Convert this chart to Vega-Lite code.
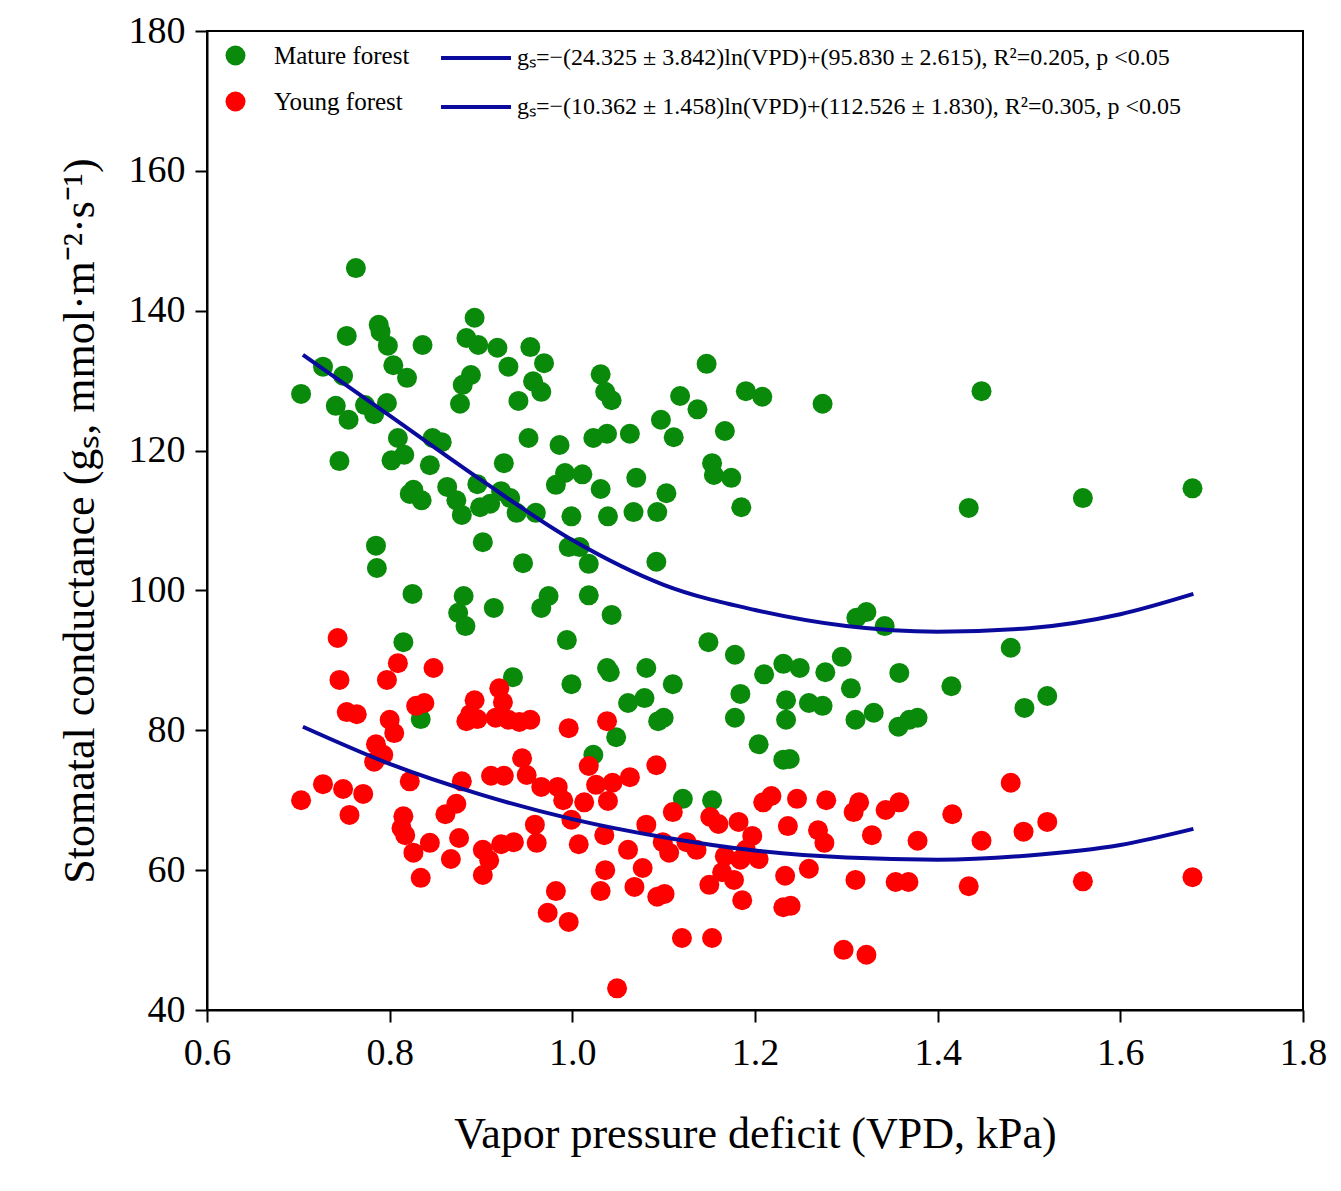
{
  "$schema": "https://vega.github.io/schema/vega-lite/v6.json",
  "width": 1096,
  "height": 979,
  "autosize": {"type": "none"},
  "padding": {"left": 207, "top": 31, "right": 38, "bottom": 181},
  "background": "white",
  "config": {
    "font": "Liberation Serif",
    "view": {"stroke": "black", "strokeWidth": 2},
    "axis": {
      "grid": false, "domainColor": "black", "domainWidth": 2, "tickColor": "black", "tickWidth": 2, "tickSize": 12, "labelFlush": false,
      "labelFont": "Liberation Serif", "labelFontSize": 38, "labelColor": "black",
      "titleFont": "Liberation Serif", "titleFontSize": 44, "titleFontWeight": "normal", "titleColor": "black"
    },
    "legend": {"labelFont": "Liberation Serif", "labelFontSize": 25, "labelColor": "black"}
  },
  "datasets": {
    "pts": [
      {"vpd":0.703,"gs":128.1,"site":"Mature forest"},{"vpd":0.727,"gs":132,"site":"Mature forest"},{"vpd":0.749,"gs":130.7,"site":"Mature forest"},{"vpd":0.741,"gs":126.4,"site":"Mature forest"},{"vpd":0.753,"gs":136.4,"site":"Mature forest"},{"vpd":0.763,"gs":146.1,"site":"Mature forest"},{"vpd":0.755,"gs":124.4,"site":"Mature forest"},{"vpd":0.745,"gs":118.5,"site":"Mature forest"},{"vpd":0.773,"gs":126.5,"site":"Mature forest"},{"vpd":0.788,"gs":138,"site":"Mature forest"},{"vpd":0.79,"gs":137,"site":"Mature forest"},{"vpd":0.798,"gs":135,"site":"Mature forest"},{"vpd":0.797,"gs":126.8,"site":"Mature forest"},{"vpd":0.804,"gs":132.2,"site":"Mature forest"},{"vpd":0.819,"gs":130.4,"site":"Mature forest"},{"vpd":0.836,"gs":135.1,"site":"Mature forest"},{"vpd":0.783,"gs":125.2,"site":"Mature forest"},{"vpd":0.809,"gs":121.8,"site":"Mature forest"},{"vpd":0.802,"gs":118.6,"site":"Mature forest"},{"vpd":0.816,"gs":119.4,"site":"Mature forest"},{"vpd":0.822,"gs":113.8,"site":"Mature forest"},{"vpd":0.835,"gs":112.9,"site":"Mature forest"},{"vpd":0.826,"gs":114.4,"site":"Mature forest"},{"vpd":0.785,"gs":106.4,"site":"Mature forest"},{"vpd":0.786,"gs":103.2,"site":"Mature forest"},{"vpd":0.825,"gs":99.5,"site":"Mature forest"},{"vpd":0.815,"gs":92.6,"site":"Mature forest"},{"vpd":0.834,"gs":81.6,"site":"Mature forest"},{"vpd":0.847,"gs":121.8,"site":"Mature forest"},{"vpd":0.857,"gs":121.2,"site":"Mature forest"},{"vpd":0.844,"gs":117.9,"site":"Mature forest"},{"vpd":0.863,"gs":114.8,"site":"Mature forest"},{"vpd":0.873,"gs":112.9,"site":"Mature forest"},{"vpd":0.877,"gs":126.7,"site":"Mature forest"},{"vpd":0.88,"gs":129.4,"site":"Mature forest"},{"vpd":0.889,"gs":130.8,"site":"Mature forest"},{"vpd":0.884,"gs":136.1,"site":"Mature forest"},{"vpd":0.893,"gs":139,"site":"Mature forest"},{"vpd":0.897,"gs":135.1,"site":"Mature forest"},{"vpd":0.881,"gs":99.2,"site":"Mature forest"},{"vpd":0.875,"gs":96.8,"site":"Mature forest"},{"vpd":0.883,"gs":94.9,"site":"Mature forest"},{"vpd":0.879,"gs":110.8,"site":"Mature forest"},{"vpd":0.896,"gs":115.2,"site":"Mature forest"},{"vpd":0.899,"gs":111.9,"site":"Mature forest"},{"vpd":0.91,"gs":112.4,"site":"Mature forest"},{"vpd":0.902,"gs":106.9,"site":"Mature forest"},{"vpd":0.918,"gs":134.7,"site":"Mature forest"},{"vpd":0.93,"gs":132,"site":"Mature forest"},{"vpd":0.925,"gs":118.2,"site":"Mature forest"},{"vpd":0.922,"gs":114.2,"site":"Mature forest"},{"vpd":0.932,"gs":113.2,"site":"Mature forest"},{"vpd":0.939,"gs":111.1,"site":"Mature forest"},{"vpd":0.914,"gs":97.5,"site":"Mature forest"},{"vpd":0.935,"gs":87.6,"site":"Mature forest"},{"vpd":0.941,"gs":127.1,"site":"Mature forest"},{"vpd":0.952,"gs":121.8,"site":"Mature forest"},{"vpd":0.946,"gs":103.9,"site":"Mature forest"},{"vpd":0.954,"gs":134.8,"site":"Mature forest"},{"vpd":0.957,"gs":129.9,"site":"Mature forest"},{"vpd":0.96,"gs":111.1,"site":"Mature forest"},{"vpd":0.966,"gs":128.4,"site":"Mature forest"},{"vpd":0.969,"gs":132.5,"site":"Mature forest"},{"vpd":0.966,"gs":97.5,"site":"Mature forest"},{"vpd":0.974,"gs":99.2,"site":"Mature forest"},{"vpd":0.982,"gs":115.1,"site":"Mature forest"},{"vpd":0.986,"gs":120.8,"site":"Mature forest"},{"vpd":0.992,"gs":116.8,"site":"Mature forest"},{"vpd":0.999,"gs":110.6,"site":"Mature forest"},{"vpd":0.996,"gs":106.2,"site":"Mature forest"},{"vpd":1.011,"gs":116.6,"site":"Mature forest"},{"vpd":1.008,"gs":106.2,"site":"Mature forest"},{"vpd":0.994,"gs":92.9,"site":"Mature forest"},{"vpd":0.999,"gs":86.6,"site":"Mature forest"},{"vpd":1.018,"gs":103.8,"site":"Mature forest"},{"vpd":1.018,"gs":99.3,"site":"Mature forest"},{"vpd":1.023,"gs":121.8,"site":"Mature forest"},{"vpd":1.031,"gs":130.9,"site":"Mature forest"},{"vpd":1.036,"gs":128.4,"site":"Mature forest"},{"vpd":1.043,"gs":127.2,"site":"Mature forest"},{"vpd":1.031,"gs":114.5,"site":"Mature forest"},{"vpd":1.038,"gs":122.4,"site":"Mature forest"},{"vpd":1.039,"gs":110.6,"site":"Mature forest"},{"vpd":1.043,"gs":96.5,"site":"Mature forest"},{"vpd":1.038,"gs":88.9,"site":"Mature forest"},{"vpd":1.041,"gs":88.3,"site":"Mature forest"},{"vpd":1.023,"gs":76.5,"site":"Mature forest"},{"vpd":1.048,"gs":79,"site":"Mature forest"},{"vpd":1.061,"gs":83.9,"site":"Mature forest"},{"vpd":1.063,"gs":122.4,"site":"Mature forest"},{"vpd":1.067,"gs":111.2,"site":"Mature forest"},{"vpd":1.07,"gs":116.1,"site":"Mature forest"},{"vpd":1.079,"gs":84.6,"site":"Mature forest"},{"vpd":1.081,"gs":88.9,"site":"Mature forest"},{"vpd":1.093,"gs":111.2,"site":"Mature forest"},{"vpd":1.097,"gs":124.4,"site":"Mature forest"},{"vpd":1.103,"gs":113.9,"site":"Mature forest"},{"vpd":1.111,"gs":121.9,"site":"Mature forest"},{"vpd":1.118,"gs":127.8,"site":"Mature forest"},{"vpd":1.137,"gs":125.9,"site":"Mature forest"},{"vpd":1.092,"gs":104.1,"site":"Mature forest"},{"vpd":1.094,"gs":81.3,"site":"Mature forest"},{"vpd":1.1,"gs":81.8,"site":"Mature forest"},{"vpd":1.11,"gs":86.6,"site":"Mature forest"},{"vpd":1.121,"gs":70.2,"site":"Mature forest"},{"vpd":1.147,"gs":132.4,"site":"Mature forest"},{"vpd":1.153,"gs":118.2,"site":"Mature forest"},{"vpd":1.155,"gs":116.5,"site":"Mature forest"},{"vpd":1.149,"gs":92.6,"site":"Mature forest"},{"vpd":1.153,"gs":70,"site":"Mature forest"},{"vpd":1.167,"gs":122.8,"site":"Mature forest"},{"vpd":1.174,"gs":116.1,"site":"Mature forest"},{"vpd":1.185,"gs":111.9,"site":"Mature forest"},{"vpd":1.19,"gs":128.5,"site":"Mature forest"},{"vpd":1.208,"gs":127.7,"site":"Mature forest"},{"vpd":1.178,"gs":90.8,"site":"Mature forest"},{"vpd":1.184,"gs":85.2,"site":"Mature forest"},{"vpd":1.178,"gs":81.8,"site":"Mature forest"},{"vpd":1.21,"gs":88,"site":"Mature forest"},{"vpd":1.204,"gs":78,"site":"Mature forest"},{"vpd":1.231,"gs":89.5,"site":"Mature forest"},{"vpd":1.234,"gs":84.3,"site":"Mature forest"},{"vpd":1.249,"gs":88.9,"site":"Mature forest"},{"vpd":1.234,"gs":81.5,"site":"Mature forest"},{"vpd":1.231,"gs":75.8,"site":"Mature forest"},{"vpd":1.238,"gs":75.9,"site":"Mature forest"},{"vpd":1.259,"gs":83.9,"site":"Mature forest"},{"vpd":1.274,"gs":83.5,"site":"Mature forest"},{"vpd":1.277,"gs":88.3,"site":"Mature forest"},{"vpd":1.274,"gs":126.7,"site":"Mature forest"},{"vpd":1.295,"gs":90.5,"site":"Mature forest"},{"vpd":1.305,"gs":86,"site":"Mature forest"},{"vpd":1.31,"gs":81.5,"site":"Mature forest"},{"vpd":1.311,"gs":96.1,"site":"Mature forest"},{"vpd":1.322,"gs":96.9,"site":"Mature forest"},{"vpd":1.33,"gs":82.5,"site":"Mature forest"},{"vpd":1.342,"gs":94.9,"site":"Mature forest"},{"vpd":1.357,"gs":80.5,"site":"Mature forest"},{"vpd":1.358,"gs":88.2,"site":"Mature forest"},{"vpd":1.369,"gs":81.5,"site":"Mature forest"},{"vpd":1.378,"gs":81.8,"site":"Mature forest"},{"vpd":1.415,"gs":86.3,"site":"Mature forest"},{"vpd":1.434,"gs":111.8,"site":"Mature forest"},{"vpd":1.448,"gs":128.5,"site":"Mature forest"},{"vpd":1.48,"gs":91.8,"site":"Mature forest"},{"vpd":1.495,"gs":83.2,"site":"Mature forest"},{"vpd":1.52,"gs":84.9,"site":"Mature forest"},{"vpd":1.559,"gs":113.2,"site":"Mature forest"},{"vpd":1.679,"gs":114.6,"site":"Mature forest"},
      {"vpd":0.703,"gs":70,"site":"Young forest"},{"vpd":0.727,"gs":72.3,"site":"Young forest"},{"vpd":0.743,"gs":93.2,"site":"Young forest"},{"vpd":0.745,"gs":87.2,"site":"Young forest"},{"vpd":0.749,"gs":71.6,"site":"Young forest"},{"vpd":0.753,"gs":82.6,"site":"Young forest"},{"vpd":0.756,"gs":67.9,"site":"Young forest"},{"vpd":0.764,"gs":82.3,"site":"Young forest"},{"vpd":0.771,"gs":70.9,"site":"Young forest"},{"vpd":0.785,"gs":78,"site":"Young forest"},{"vpd":0.783,"gs":75.5,"site":"Young forest"},{"vpd":0.793,"gs":76.5,"site":"Young forest"},{"vpd":0.797,"gs":87.2,"site":"Young forest"},{"vpd":0.8,"gs":81.5,"site":"Young forest"},{"vpd":0.805,"gs":79.6,"site":"Young forest"},{"vpd":0.809,"gs":89.6,"site":"Young forest"},{"vpd":0.813,"gs":66,"site":"Young forest"},{"vpd":0.815,"gs":67.7,"site":"Young forest"},{"vpd":0.817,"gs":65,"site":"Young forest"},{"vpd":0.822,"gs":72.7,"site":"Young forest"},{"vpd":0.829,"gs":83.5,"site":"Young forest"},{"vpd":0.826,"gs":62.5,"site":"Young forest"},{"vpd":0.838,"gs":83.9,"site":"Young forest"},{"vpd":0.834,"gs":58.9,"site":"Young forest"},{"vpd":0.844,"gs":63.9,"site":"Young forest"},{"vpd":0.848,"gs":88.9,"site":"Young forest"},{"vpd":0.861,"gs":68,"site":"Young forest"},{"vpd":0.867,"gs":61.6,"site":"Young forest"},{"vpd":0.876,"gs":64.6,"site":"Young forest"},{"vpd":0.873,"gs":69.5,"site":"Young forest"},{"vpd":0.879,"gs":72.7,"site":"Young forest"},{"vpd":0.884,"gs":81.3,"site":"Young forest"},{"vpd":0.888,"gs":82.3,"site":"Young forest"},{"vpd":0.893,"gs":84.3,"site":"Young forest"},{"vpd":0.896,"gs":81.6,"site":"Young forest"},{"vpd":0.902,"gs":62.9,"site":"Young forest"},{"vpd":0.902,"gs":59.3,"site":"Young forest"},{"vpd":0.909,"gs":61.4,"site":"Young forest"},{"vpd":0.911,"gs":73.5,"site":"Young forest"},{"vpd":0.92,"gs":86,"site":"Young forest"},{"vpd":0.916,"gs":81.8,"site":"Young forest"},{"vpd":0.924,"gs":84,"site":"Young forest"},{"vpd":0.93,"gs":81.5,"site":"Young forest"},{"vpd":0.922,"gs":63.7,"site":"Young forest"},{"vpd":0.925,"gs":73.5,"site":"Young forest"},{"vpd":0.942,"gs":81.2,"site":"Young forest"},{"vpd":0.936,"gs":64,"site":"Young forest"},{"vpd":0.945,"gs":76,"site":"Young forest"},{"vpd":0.95,"gs":73.6,"site":"Young forest"},{"vpd":0.954,"gs":81.5,"site":"Young forest"},{"vpd":0.959,"gs":66.5,"site":"Young forest"},{"vpd":0.961,"gs":63.9,"site":"Young forest"},{"vpd":0.966,"gs":71.9,"site":"Young forest"},{"vpd":0.973,"gs":53.9,"site":"Young forest"},{"vpd":0.982,"gs":57,"site":"Young forest"},{"vpd":0.984,"gs":71.9,"site":"Young forest"},{"vpd":0.99,"gs":70,"site":"Young forest"},{"vpd":0.996,"gs":52.6,"site":"Young forest"},{"vpd":0.999,"gs":67.2,"site":"Young forest"},{"vpd":0.996,"gs":80.3,"site":"Young forest"},{"vpd":1.007,"gs":63.7,"site":"Young forest"},{"vpd":1.013,"gs":69.7,"site":"Young forest"},{"vpd":1.018,"gs":74.9,"site":"Young forest"},{"vpd":1.026,"gs":72.2,"site":"Young forest"},{"vpd":1.031,"gs":57,"site":"Young forest"},{"vpd":1.038,"gs":81.3,"site":"Young forest"},{"vpd":1.036,"gs":60,"site":"Young forest"},{"vpd":1.035,"gs":65,"site":"Young forest"},{"vpd":1.039,"gs":69.9,"site":"Young forest"},{"vpd":1.044,"gs":72.5,"site":"Young forest"},{"vpd":1.049,"gs":43.1,"site":"Young forest"},{"vpd":1.061,"gs":62.9,"site":"Young forest"},{"vpd":1.063,"gs":73.3,"site":"Young forest"},{"vpd":1.068,"gs":57.6,"site":"Young forest"},{"vpd":1.077,"gs":60.3,"site":"Young forest"},{"vpd":1.081,"gs":66.5,"site":"Young forest"},{"vpd":1.092,"gs":75,"site":"Young forest"},{"vpd":1.093,"gs":56.2,"site":"Young forest"},{"vpd":1.101,"gs":56.6,"site":"Young forest"},{"vpd":1.099,"gs":64,"site":"Young forest"},{"vpd":1.106,"gs":62.5,"site":"Young forest"},{"vpd":1.11,"gs":68.3,"site":"Young forest"},{"vpd":1.12,"gs":50.3,"site":"Young forest"},{"vpd":1.125,"gs":64,"site":"Young forest"},{"vpd":1.136,"gs":62.9,"site":"Young forest"},{"vpd":1.15,"gs":57.9,"site":"Young forest"},{"vpd":1.153,"gs":50.3,"site":"Young forest"},{"vpd":1.151,"gs":67.6,"site":"Young forest"},{"vpd":1.16,"gs":66.6,"site":"Young forest"},{"vpd":1.164,"gs":59.7,"site":"Young forest"},{"vpd":1.167,"gs":62,"site":"Young forest"},{"vpd":1.177,"gs":58.6,"site":"Young forest"},{"vpd":1.182,"gs":66.9,"site":"Young forest"},{"vpd":1.184,"gs":61.5,"site":"Young forest"},{"vpd":1.186,"gs":55.7,"site":"Young forest"},{"vpd":1.19,"gs":62.9,"site":"Young forest"},{"vpd":1.197,"gs":64.9,"site":"Young forest"},{"vpd":1.204,"gs":61.6,"site":"Young forest"},{"vpd":1.209,"gs":69.7,"site":"Young forest"},{"vpd":1.218,"gs":70.6,"site":"Young forest"},{"vpd":1.231,"gs":54.7,"site":"Young forest"},{"vpd":1.233,"gs":59.2,"site":"Young forest"},{"vpd":1.236,"gs":66.3,"site":"Young forest"},{"vpd":1.239,"gs":54.9,"site":"Young forest"},{"vpd":1.246,"gs":70.2,"site":"Young forest"},{"vpd":1.259,"gs":60.2,"site":"Young forest"},{"vpd":1.269,"gs":65.7,"site":"Young forest"},{"vpd":1.276,"gs":63.9,"site":"Young forest"},{"vpd":1.278,"gs":70,"site":"Young forest"},{"vpd":1.297,"gs":48.6,"site":"Young forest"},{"vpd":1.308,"gs":68.3,"site":"Young forest"},{"vpd":1.31,"gs":58.6,"site":"Young forest"},{"vpd":1.314,"gs":69.7,"site":"Young forest"},{"vpd":1.322,"gs":47.9,"site":"Young forest"},{"vpd":1.328,"gs":65,"site":"Young forest"},{"vpd":1.343,"gs":68.6,"site":"Young forest"},{"vpd":1.354,"gs":58.3,"site":"Young forest"},{"vpd":1.358,"gs":69.7,"site":"Young forest"},{"vpd":1.368,"gs":58.3,"site":"Young forest"},{"vpd":1.378,"gs":64.2,"site":"Young forest"},{"vpd":1.416,"gs":68,"site":"Young forest"},{"vpd":1.434,"gs":57.7,"site":"Young forest"},{"vpd":1.448,"gs":64.2,"site":"Young forest"},{"vpd":1.48,"gs":72.5,"site":"Young forest"},{"vpd":1.494,"gs":65.5,"site":"Young forest"},{"vpd":1.52,"gs":66.9,"site":"Young forest"},{"vpd":1.559,"gs":58.4,"site":"Young forest"},{"vpd":1.679,"gs":59,"site":"Young forest"}
    ],
    "fits": [
      {"vpd":0.705,"gs":133.7,"eq":"A"},{"vpd":0.8,"gs":125,"eq":"A"},{"vpd":0.9,"gs":115.8,"eq":"A"},{"vpd":1.0,"gs":107.2,"eq":"A"},{"vpd":1.1,"gs":100.8,"eq":"A"},{"vpd":1.2,"gs":97.2,"eq":"A"},{"vpd":1.3,"gs":94.9,"eq":"A"},{"vpd":1.4,"gs":94.1,"eq":"A"},{"vpd":1.5,"gs":94.6,"eq":"A"},{"vpd":1.6,"gs":96.6,"eq":"A"},{"vpd":1.68,"gs":99.5,"eq":"A"},
      {"vpd":0.705,"gs":80.5,"eq":"B"},{"vpd":0.8,"gs":75.2,"eq":"B"},{"vpd":0.9,"gs":70.8,"eq":"B"},{"vpd":1.0,"gs":67.3,"eq":"B"},{"vpd":1.1,"gs":64.7,"eq":"B"},{"vpd":1.2,"gs":62.8,"eq":"B"},{"vpd":1.3,"gs":61.8,"eq":"B"},{"vpd":1.4,"gs":61.5,"eq":"B"},{"vpd":1.5,"gs":62.1,"eq":"B"},{"vpd":1.6,"gs":63.6,"eq":"B"},{"vpd":1.68,"gs":65.9,"eq":"B"}
    ]
  },
  "encoding": {
    "x": {"field": "vpd", "type": "quantitative", "scale": {"domain": [0.6, 1.8], "nice": false},
      "axis": {"values": [0.6, 0.8, 1.0, 1.2, 1.4, 1.6, 1.8], "format": ".1f", "title": "Vapor pressure deficit (VPD, kPa)", "titlePadding": 40, "labelPadding": 12}},
    "y": {"field": "gs", "type": "quantitative", "scale": {"domain": [40, 180], "nice": false},
      "axis": {"values": [40, 60, 80, 100, 120, 140, 160, 180], "title": "Stomatal conductance (gₛ, mmol·m⁻²·s⁻¹)", "titlePadding": 26, "labelPadding": 10}}
  },
  "layer": [
    {
      "data": {"name": "pts"},
      "mark": {"type": "circle", "size": 400, "opacity": 1},
      "encoding": {
        "color": {"field": "site", "type": "nominal",
          "scale": {"domain": ["Mature forest", "Young forest"], "range": ["#0a8a0a", "#ff0000"]},
          "legend": {"title": null, "orient": "none", "legendX": 16, "legendY": 12, "symbolSize": 400, "rowPadding": 20, "labelOffset": 26}}
      }
    },
    {
      "data": {"name": "fits"},
      "mark": {"type": "line", "interpolate": "monotone", "strokeWidth": 4},
      "encoding": {
        "stroke": {"field": "eq", "type": "nominal",
          "scale": {"domain": ["A", "B"], "range": ["#0a0a9c", "#0a0a9c"]},
          "legend": {"title": null, "orient": "none", "legendX": 232, "legendY": -10, "symbolType": "stroke", "symbolSize": 4900, "symbolStrokeWidth": 4, "rowPadding": -25, "labelOffset": 4, "labelLimit": 900, "labelFontSize": 24,
            "labelExpr": "datum.value == 'A' ? 'gₛ=−(24.325 ± 3.842)ln(VPD)+(95.830 ± 2.615), R²=0.205, p <0.05' : 'gₛ=−(10.362 ± 1.458)ln(VPD)+(112.526 ± 1.830), R²=0.305, p <0.05'"}}
      }
    }
  ]
}
